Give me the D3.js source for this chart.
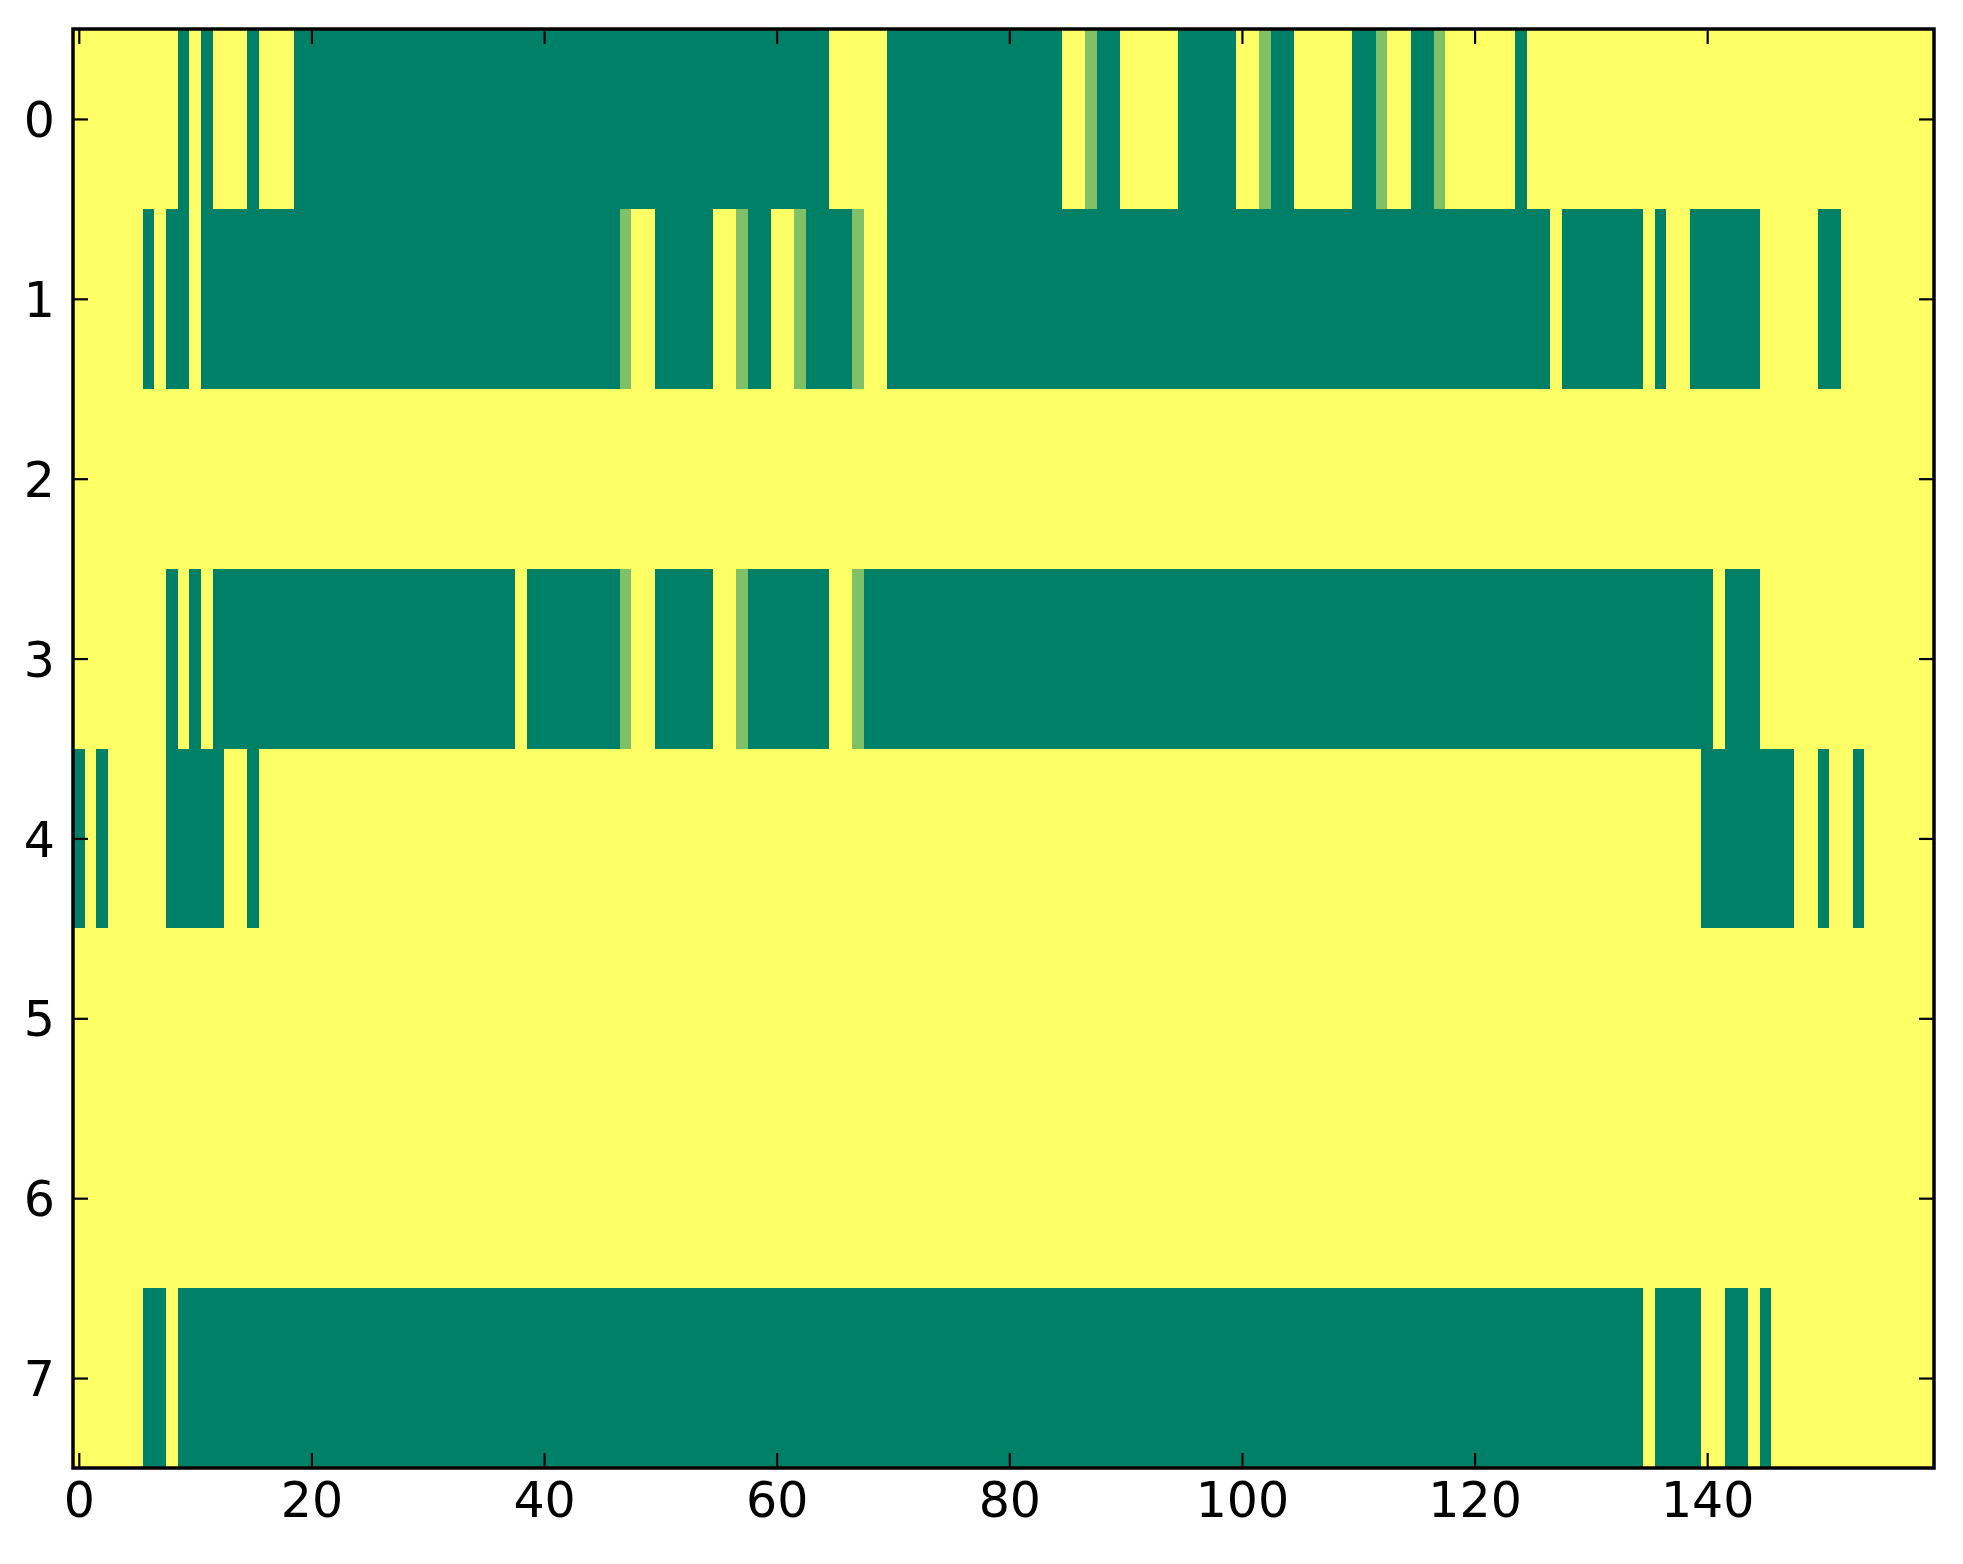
<!DOCTYPE html>
<html>
<head>
<meta charset="utf-8">
<script src="https://cdn.jsdelivr.net/npm/d3@7"></script>
<style>
  html, body { margin: 0; padding: 0; background: #ffffff; }
  svg { display: block; }
  text { font-family: "DejaVu Sans", sans-serif; }
</style>
</head>
<body>
<script>
// ---- Data: each row as runs [firstColumn, lastColumn, value] (0 = low, 0.5 = mid, 1 = high)
const nCols = 160;
const rowLabels = [0, 1, 2, 3, 4, 5, 6, 7];
const xTickValues = [0, 20, 40, 60, 80, 100, 120, 140];

const row0 = [[0,8,1],[9,9,0],[10,10,1],[11,11,0],[12,14,1],[15,15,0],[16,18,1],[19,64,0],[65,69,1],[70,84,0],[85,86,1],[87,87,0.5],[88,89,0],[90,94,1],[95,99,0],[100,101,1],[102,102,0.5],[103,104,0],[105,109,1],[110,111,0],[112,112,0.5],[113,114,1],[115,116,0],[117,117,0.5],[118,123,1],[124,124,0],[125,159,1]];
const row1 = [[0,5,1],[6,6,0],[7,7,1],[8,9,0],[10,10,1],[11,46,0],[47,47,0.5],[48,49,1],[50,54,0],[55,56,1],[57,57,0.5],[58,59,0],[60,61,1],[62,62,0.5],[63,66,0],[67,67,0.5],[68,69,1],[70,126,0],[127,127,1],[128,134,0],[135,135,1],[136,136,0],[137,138,1],[139,144,0],[145,149,1],[150,151,0],[152,159,1]];
const row2 = [[0,159,1]];
const row3 = [[0,7,1],[8,8,0],[9,9,1],[10,10,0],[11,11,1],[12,37,0],[38,38,1],[39,46,0],[47,47,0.5],[48,49,1],[50,54,0],[55,56,1],[57,57,0.5],[58,64,0],[65,66,1],[67,67,0.5],[68,140,0],[141,141,1],[142,144,0],[145,159,1]];
const row4 = [[0,0,0],[1,1,1],[2,2,0],[3,7,1],[8,12,0],[13,14,1],[15,15,0],[16,139,1],[140,147,0],[148,149,1],[150,150,0],[151,152,1],[153,153,0],[154,159,1]];
const row5 = [[0,159,1]];
const row6 = [[0,159,1]];
const row7 = [[0,5,1],[6,7,0],[8,8,1],[9,134,0],[135,135,1],[136,139,0],[140,141,1],[142,143,0],[144,144,1],[145,145,0],[146,159,1]];
const rows = [row0, row1, row2, row3, row4, row5, row6, row7];

(function () {
  // ---- Layout
  const W = 1963, H = 1564;
  const pL = 73, pR = 1934, pT = 29, pB = 1468;
  const fontSize = 49;

  const x = d3.scaleLinear().domain([-0.5, nCols - 0.5]).range([pL, pR]);
  const y = d3.scaleLinear().domain([-0.5, rowLabels.length - 0.5]).range([pT, pB]);
  const color = d3.scaleLinear().domain([0, 1]).range(["#008066", "#ffff66"]).interpolate(d3.interpolateRgb);

  const svg = d3.select("body").append("svg").attr("width", W).attr("height", H);

  const cells = [];
  rows.forEach((runs, r) => runs.forEach(([a, b, v]) => cells.push({ r, a, b, v })));

  svg.append("g").attr("shape-rendering", "crispEdges")
    .selectAll("rect").data(cells).join("rect")
    .attr("x", d => x(d.a - 0.5))
    .attr("width", d => x(d.b + 0.5) - x(d.a - 0.5))
    .attr("y", d => y(d.r - 0.5))
    .attr("height", d => y(d.r + 0.5) - y(d.r - 0.5))
    .attr("fill", d => color(d.v));

  // ---- Axes (ticks pointing inward, on all four sides)
  const tickLen = 15;
  const axisG = svg.append("g");

  const xAxisBottom = d3.axisBottom(x).tickValues(xTickValues).tickSize(-tickLen).tickPadding(14).tickFormat(d3.format("d"));
  const xAxisTop = d3.axisTop(x).tickValues(xTickValues).tickSize(-tickLen).tickFormat("");
  const yAxisLeft = d3.axisLeft(y).tickValues(rowLabels).tickSize(-tickLen).tickPadding(18).tickFormat(d3.format("d"));
  const yAxisRight = d3.axisRight(y).tickValues(rowLabels).tickSize(-tickLen).tickFormat("");

  function style(g) {
    g.select(".domain").remove();
    g.selectAll(".tick line").attr("stroke", "#000").attr("stroke-width", 2.2);
    g.selectAll(".tick text").attr("fill", "#000").attr("font-size", fontSize).attr("font-family", "DejaVu Sans");
  }

  axisG.append("g").attr("transform", `translate(0,${pB})`).call(xAxisBottom).call(style);
  axisG.append("g").attr("transform", `translate(0,${pT})`).call(xAxisTop).call(style);
  axisG.append("g").attr("transform", `translate(${pL},0)`).call(yAxisLeft).call(style)
    .selectAll(".tick text").attr("dy", "0.36em");
  axisG.append("g").attr("transform", `translate(${pR},0)`).call(yAxisRight).call(style);

  // frame
  svg.append("rect")
    .attr("x", pL).attr("y", pT)
    .attr("width", pR - pL).attr("height", pB - pT)
    .attr("fill", "none").attr("stroke", "#000").attr("stroke-width", 3.5);
})();
</script>
</body>
</html>
